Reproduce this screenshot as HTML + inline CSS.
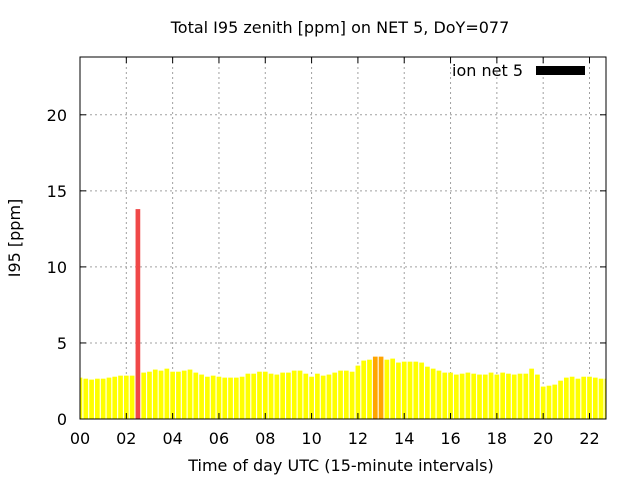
<!DOCTYPE html>
<html><head><meta charset="utf-8"><style>
body{margin:0;background:#fff;width:640px;height:480px;overflow:hidden}
svg{font-family:"DejaVu Sans","Liberation Sans",sans-serif}
</style></head><body>
<svg id="chart" width="640" height="480" xmlns="http://www.w3.org/2000/svg">
<rect width="640" height="480" fill="#fff"/>
<text x="340" y="33" text-anchor="middle" font-size="16">Total I95 zenith [ppm] on NET 5, DoY=077</text>
<g id="grid"></g>
<g id="bars"></g>
<rect x="80" y="57" width="526" height="362" fill="none" stroke="#000" stroke-width="1"/>
<g id="ticks"></g>
<text transform="translate(20,238) rotate(-90)" text-anchor="middle" font-size="16">I95 [ppm]</text>
<text x="341" y="471" text-anchor="middle" font-size="16">Time of day UTC (15-minute intervals)</text>
<g>
<text x="523" y="76" text-anchor="end" font-size="16">ion net 5</text>
<rect x="536" y="66" width="49" height="9" fill="#000"/>
</g>
</svg>
<script>
const values=[2.72,2.65,2.59,2.65,2.65,2.72,2.78,2.85,2.85,2.85,13.8,3.05,3.11,3.25,3.18,3.31,3.11,3.11,3.18,3.25,3.05,2.92,2.78,2.85,2.78,2.72,2.72,2.72,2.78,2.98,2.98,3.11,3.11,2.98,2.92,3.05,3.05,3.18,3.18,2.98,2.78,2.98,2.85,2.92,3.05,3.18,3.18,3.11,3.51,3.84,3.90,4.10,4.10,3.90,3.97,3.71,3.77,3.77,3.77,3.71,3.44,3.31,3.18,3.05,3.05,2.92,2.98,3.05,2.98,2.92,2.92,3.05,2.92,3.05,2.98,2.92,2.98,2.98,3.31,2.92,2.13,2.19,2.26,2.52,2.72,2.78,2.65,2.78,2.78,2.72,2.65,2.65];
const xTickLabels=["00","02","04","06","08","10","12","14","16","18","20","22"];
const yTicks=[0,5,10,15,20];
const NS="http://www.w3.org/2000/svg";
const X0=80,X1=606,Y0=419,Y1=57,xMin=0,xMax=90.85,yMin=0,yMax=23.8;
const xs=i=>X0+(i-xMin)/(xMax-xMin)*(X1-X0);
const ys=v=>Y0-(v-yMin)/(yMax-yMin)*(Y0-Y1);
function mk(t,a,p){const e=document.createElementNS(NS,t);for(const k in a)e.setAttribute(k,a[k]);p.appendChild(e);return e;}
const grid=document.getElementById('grid'),bars=document.getElementById('bars'),ticks=document.getElementById('ticks');
const bw=4.7;
values.forEach((v,i)=>{
  let l=xs(i)-bw/2,r=xs(i)+bw/2;l=Math.max(l,X0);r=Math.min(r,X1);if(r<=l)return;
  const col=v>8?"#f04848":(v>=4?"#ffa500":"#ffff00");
  const b=mk('rect',{x:l,y:ys(v),width:r-l,height:Y0-ys(v),fill:col},bars);
  
  
});
xTickLabels.forEach((lab,k)=>{
  const x=xs(k*8);
  if(k>0){const g=mk('line',{x1:x,y1:Y0,x2:x,y2:Y1,stroke:"#a0a0a0","stroke-dasharray":"2,3"},grid);
  
  }
  mk('line',{x1:x,y1:Y0,x2:x,y2:Y0-6,stroke:"#000"},ticks);
  mk('line',{x1:x,y1:Y1,x2:x,y2:Y1+6,stroke:"#000"},ticks);
  const t=mk('text',{x:x,y:444,"text-anchor":"middle","font-size":"16"},ticks);
  t.textContent=lab;
  
  
});
yTicks.forEach(v=>{
  const y=ys(v);
  if(v>0){const g=mk('line',{x1:X0,y1:y,x2:X1,y2:y,stroke:"#a0a0a0","stroke-dasharray":"2,3"},grid);
  
  }
  mk('line',{x1:X0,y1:y,x2:X0+6,y2:y,stroke:"#000"},ticks);
  mk('line',{x1:X1,y1:y,x2:X1-6,y2:y,stroke:"#000"},ticks);
  const t=mk('text',{x:X0-13,y:y+6,"text-anchor":"end","font-size":"16"},ticks);
  t.textContent=v;
  
  
});
</script>
</body></html>
